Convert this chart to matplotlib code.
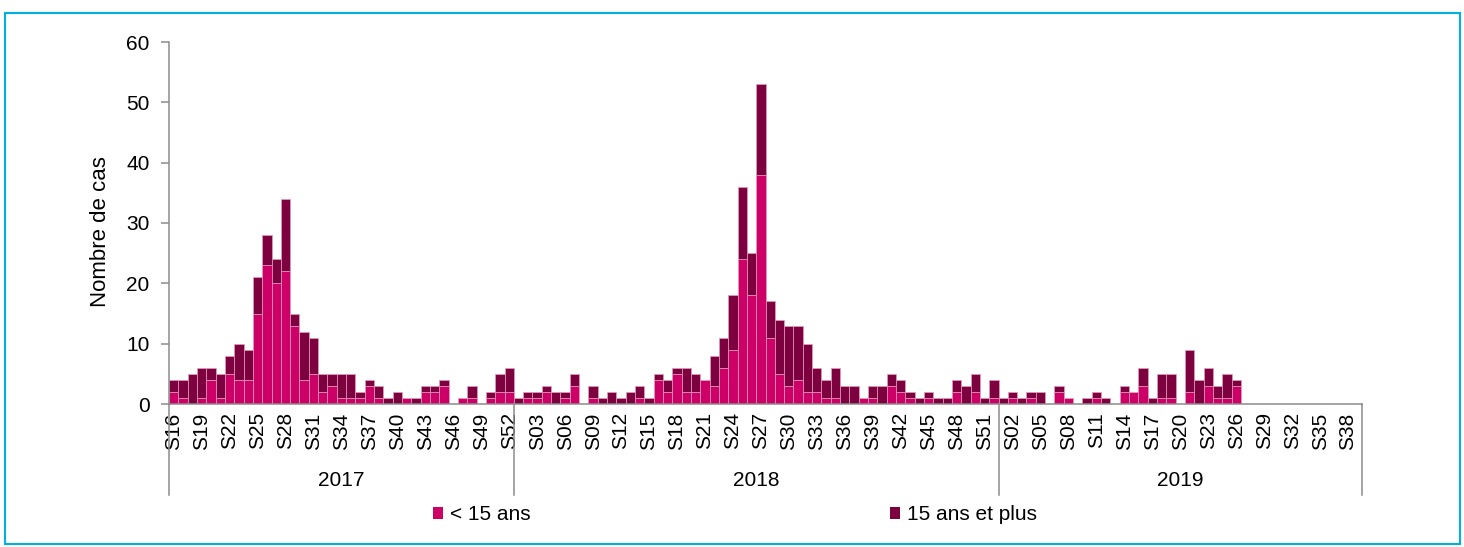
import numpy as np
import matplotlib
matplotlib.use('Agg')
import matplotlib.pyplot as plt
from matplotlib.patches import Patch, Rectangle

plt.rcParams['font.family'] = ['Liberation Sans', 'DejaVu Sans']

# semaines par année (S16 2017 -> S39 2019)
years = ['2017', '2018', '2019']
weeks_2017 = [f"S{w:02d}" for w in range(16, 53)]
weeks_2018 = [f"S{w:02d}" for w in range(1, 53)]
weeks_2019 = [f"S{w:02d}" for w in range(1, 40)]

# nombre de cas < 15 ans
under15_2017 = [2, 1, 0, 1, 4, 1, 5, 4, 4, 15, 23, 20, 22, 13, 4, 5, 2, 3, 1, 1,
                1, 3, 1, 0, 0, 1, 0, 2, 2, 3, 0, 1, 1, 0, 1, 2, 2]
under15_2018 = [0, 1, 1, 2, 0, 1, 3, 0, 1, 0, 0, 0, 0, 1, 0, 4, 2, 5, 2, 2,
                4, 3, 6, 9, 24, 18, 38, 11, 5, 3, 4, 2, 2, 1, 1, 0, 0, 1, 1, 0,
                3, 2, 1, 0, 1, 0, 0, 2, 0, 2, 0, 1]
under15_2019 = [0, 1, 0, 1, 0, 0, 2, 1, 0, 0, 1, 0, 0, 2, 2, 3, 0, 1, 1, 0,
                2, 0, 3, 1, 1, 3, 0, 0, 0, 0, 0, 0, 0, 0, 0, 0, 0, 0, 0]

# nombre de cas 15 ans et plus
over15_2017 = [2, 3, 5, 5, 2, 4, 3, 6, 5, 6, 5, 4, 12, 2, 8, 6, 3, 2, 4, 4,
               1, 1, 2, 1, 2, 0, 1, 1, 1, 1, 0, 0, 2, 0, 1, 3, 4]
over15_2018 = [1, 1, 1, 1, 2, 1, 2, 0, 2, 1, 2, 1, 2, 2, 1, 1, 2, 1, 4, 3,
               0, 5, 5, 9, 12, 7, 15, 6, 9, 10, 9, 8, 4, 3, 5, 3, 3, 0, 2, 3,
               2, 2, 1, 1, 1, 1, 1, 2, 3, 3, 1, 3]
over15_2019 = [1, 1, 1, 1, 2, 0, 1, 0, 0, 1, 1, 1, 0, 1, 0, 3, 1, 4, 4, 0,
               7, 4, 3, 2, 4, 1, 0, 0, 0, 0, 0, 0, 0, 0, 0, 0, 0, 0, 0]

weeks = weeks_2017 + weeks_2018 + weeks_2019
under15 = np.array(under15_2017 + under15_2018 + under15_2019)
over15 = np.array(over15_2017 + over15_2018 + over15_2019)
n = len(weeks)
x = np.arange(n)

PINK = '#CC0066'
DARK = '#7D003F'
EDGE = '#E59CC0'
GRAY = '#8C8C8C'
FS = 15

fig = plt.figure(figsize=(14.64, 5.47), dpi=100)
ax = fig.add_axes([169 / 1464, 1 - 404 / 547, (1362 - 169) / 1464, (404 - 42) / 547])

ax.bar(x, under15, width=1, color=PINK, edgecolor=EDGE, linewidth=0.5)
ax.bar(x, over15, bottom=under15, width=1, color=DARK, edgecolor=EDGE, linewidth=0.5)

ax.set_xlim(-0.5, n - 0.5)
ax.set_ylim(0, 60)
ax.set_yticks(range(0, 61, 10))
ax.set_xticks(x[::3])
ax.set_xticklabels(weeks[::3], rotation=90, fontsize=FS)
ax.tick_params(axis='x', length=0, pad=6)
ax.tick_params(axis='y', length=6, width=1.1, color=GRAY, pad=8, labelsize=FS)
for s in ['top', 'right']:
    ax.spines[s].set_visible(False)
for s in ['left', 'bottom']:
    ax.spines[s].set_color(GRAY)
    ax.spines[s].set_linewidth(1.1)

# séparateurs et étiquettes des années
trans = ax.get_xaxis_transform()
bounds = [-0.5, len(weeks_2017) - 0.5, len(weeks_2017) + len(weeks_2018) - 0.5, n - 0.5]
low = -(495 - 404) / 362
for b in bounds:
    ax.plot([b, b], [0, low], transform=trans, color=GRAY, lw=1.1, clip_on=False)
for i, yr in enumerate(years):
    ax.text((bounds[i] + bounds[i + 1]) / 2, -(481 - 404) / 362, yr, transform=trans,
            ha='center', va='center', fontsize=FS)

fig.text(101 / 1464, 1 - 232 / 547, 'Nombre de cas', rotation=90, ha='center',
         va='center', fontsize=16)

# légende
for lab, col, xpos in [('< 15 ans', PINK, 433), ('15 ans et plus', DARK, 890)]:
    fig.legend(handles=[Patch(facecolor=col, edgecolor='none', label=lab)],
               loc='center left', bbox_to_anchor=(xpos / 1464, 1 - 515 / 547),
               frameon=False, borderpad=0, borderaxespad=0, handlelength=0.5,
               handleheight=0.5, handletextpad=0.3, fontsize=FS)

# cadre
fig.patches.append(Rectangle((5 / 1464, 1 - 544 / 547), 1455 / 1464, 531 / 547,
                             transform=fig.transFigure, fill=False,
                             edgecolor='#00B0E0', linewidth=1.5))

fig.savefig('out.png', dpi=100)
